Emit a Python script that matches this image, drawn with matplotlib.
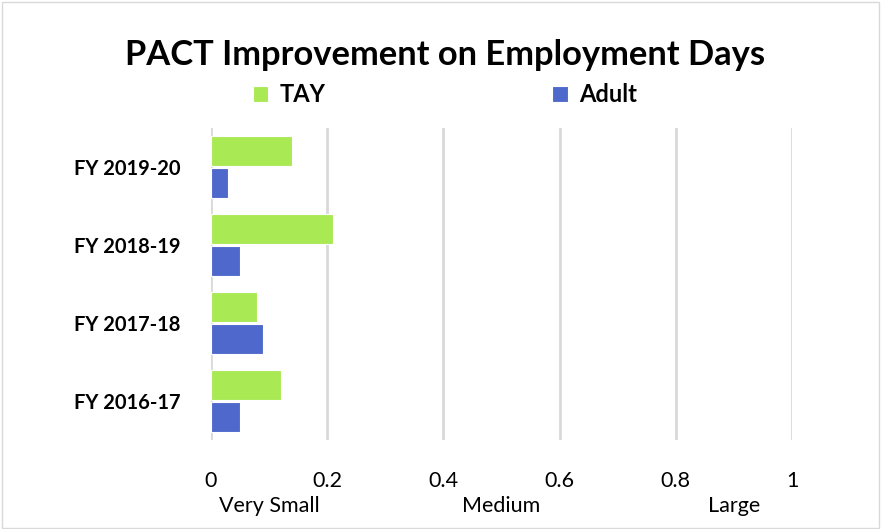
import matplotlib
matplotlib.use("Agg")
import matplotlib.pyplot as plt
import numpy as np
from matplotlib.patches import Rectangle

# categories listed bottom -> top
years = ["FY 2016-17", "FY 2017-18", "FY 2018-19", "FY 2019-20"]
tay = [0.12, 0.08, 0.21, 0.14]
adult = [0.05, 0.09, 0.05, 0.03]
x_ticks = [0, 0.2, 0.4, 0.6, 0.8, 1]
x_tick_labels = ["0", "0.2", "0.4", "0.6", "0.8", "1"]
effect_labels = ["Very Small", "Medium", "Large"]
effect_pos = [0.1, 0.5, 0.9]

green = "#a9e954"
blue = "#4f68cc"
plt.rcParams["font.family"] = ["Lato", "DejaVu Sans"]

fig = plt.figure(figsize=(8.81, 5.29), dpi=100)
ax = fig.add_axes([0.2395, 0.168, 0.6595, 0.59])

y = np.arange(len(years))
h = 0.39
ax.barh(y + h / 2 + 0.01, tay, height=h, color=green, edgecolor="white", lw=0.8, label="TAY", zorder=3)
ax.barh(y - h / 2 - 0.01, adult, height=h, color=blue, edgecolor="white", lw=0.8, label="Adult", zorder=3)

ax.set_xlim(0, 1)
ax.set_ylim(-0.5, 3.5)
ax.set_xticks(x_ticks)
ax.set_xticklabels(x_tick_labels, fontsize=15.5)
ax.set_yticks(y)
ax.set_yticklabels(years, fontsize=14.5, fontweight="bold")
ax.tick_params(length=0, pad=22)
ax.tick_params(axis="x", pad=22)
ax.grid(axis="x", color="#d9d9d9", lw=2, zorder=0)
for s in ax.spines.values():
    s.set_visible(False)

for lab, p in zip(effect_labels, effect_pos):
    ax.text(p, -0.212, lab, transform=ax.get_xaxis_transform(), ha="center", va="center", fontsize=15.5)

fig.text(0.505, 1 - 55 / 529, "PACT Improvement on Employment Days", ha="center", va="center",
         fontsize=24.8, fontweight="bold")
fig.legend(loc="center", bbox_to_anchor=(445 / 881, 1 - 95 / 529), ncol=2, frameon=False,
           handlelength=0.65, handleheight=0.65, handletextpad=0.5, columnspacing=9.6,
           prop={"size": 17, "weight": "bold"})

fig.add_artist(Rectangle((0.002, 0.002), 0.996, 0.994, transform=fig.transFigure,
                         fill=False, edgecolor="#d9d9d9", lw=1))

fig.savefig("out.png", dpi=100)
